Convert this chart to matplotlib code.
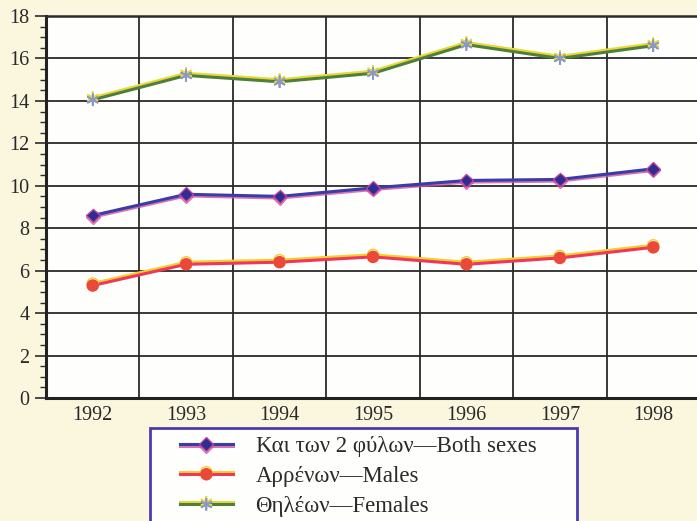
import numpy as np
import matplotlib
matplotlib.use('Agg')
import matplotlib.pyplot as plt
import matplotlib.patheffects as pe
from matplotlib.patches import Rectangle
from matplotlib.ticker import MultipleLocator

years = ['1992', '1993', '1994', '1995', '1996', '1997', '1998']
both = [8.6, 9.6, 9.5, 9.9, 10.25, 10.3, 10.8]
males = [5.3, 6.3, 6.4, 6.65, 6.3, 6.6, 7.1]
females = [14.05, 15.2, 14.9, 15.3, 16.65, 16.0, 16.6]
labels = ['Και των 2 φύλων—Both sexes', 'Αρρένων—Males', 'Θηλέων—Females']

plt.rcParams['font.family'] = ['Liberation Serif', 'DejaVu Serif']

fig = plt.figure(figsize=(6.97, 5.21), dpi=100, facecolor='#fbf7de')
ax = fig.add_axes([46 / 697, 123 / 521, 654 / 697, 382 / 521])
ax.set_facecolor('#fefefc')

x = np.arange(len(years))

l1, = ax.plot(x, both, color='#3a3ca8', lw=2.2, marker='D', ms=7,
              mfc='#2c2e90', mec='#c040a0', mew=1,
              path_effects=[pe.SimpleLineShadow(offset=(0, -1.2), shadow_color='#d050a0', alpha=0.8),
                            pe.Normal()], zorder=4)
l2, = ax.plot(x, males, color='#f0365a', lw=2.2, marker='o', ms=8,
              mfc='#ea4838', mec='#ea4838',
              path_effects=[pe.SimpleLineShadow(offset=(0, 1.5), shadow_color='#f0d030', alpha=1),
                            pe.Normal()], zorder=4)
l3, = ax.plot(x, females, color='#4f7f3c', lw=2.2, marker=(6, 2, 0), ms=9,
              mfc='#9aa8d0', mec='#8a98c8', mew=1.2,
              path_effects=[pe.SimpleLineShadow(offset=(0, 1.5), shadow_color='#e8d838', alpha=1),
                            pe.Normal()], zorder=4)

ax.set_xlim(-0.5, 6.5)
ax.set_ylim(0, 18)
ax.set_xticks(x)
ax.set_xticklabels(years)
ax.set_xticks(np.arange(-0.5, 7, 1), minor=True)
ax.yaxis.set_major_locator(MultipleLocator(2))
ax.yaxis.set_minor_locator(MultipleLocator(0.5))

ax.grid(True, axis='y', which='major', color='#2a2a2a', lw=1.3)
ax.grid(True, axis='x', which='minor', color='#2a2a2a', lw=1.3)
ax.tick_params(axis='x', which='both', length=0, labelsize=14.5, colors='#2a2a2a', pad=6)
ax.tick_params(axis='y', which='major', length=8, width=1.2, labelsize=14.5, colors='#2a2a2a', pad=4)
ax.tick_params(axis='y', which='minor', length=4, width=1, colors='#2a2a2a')

for s in ['top', 'right']:
    ax.spines[s].set_color('#2a2a2a')
    ax.spines[s].set_linewidth(1.8)
for s in ['left', 'bottom']:
    ax.spines[s].set_color('#222222')
    ax.spines[s].set_linewidth(2.2)

# legend box, cut off by the bottom edge as in the scan
box = Rectangle((150 / 697, -0.05), 427 / 697, 0.05 + 1 - 428 / 521,
                transform=fig.transFigure, facecolor='#fefefc',
                edgecolor='#4a3cb0', lw=2, zorder=1)
fig.add_artist(box)

leg = fig.legend([l1, l2, l3], labels, loc='upper left',
                 bbox_to_anchor=(180 / 697, 1 - 436 / 521),
                 fontsize=16.5, frameon=False, handlelength=2.3,
                 handletextpad=1.0, labelspacing=0.4, borderpad=0,
                 borderaxespad=0)
leg.set_zorder(2)
for t in leg.get_texts():
    t.set_color('#2a2a2a')

fig.savefig('out.png', dpi=100, facecolor=fig.get_facecolor())
